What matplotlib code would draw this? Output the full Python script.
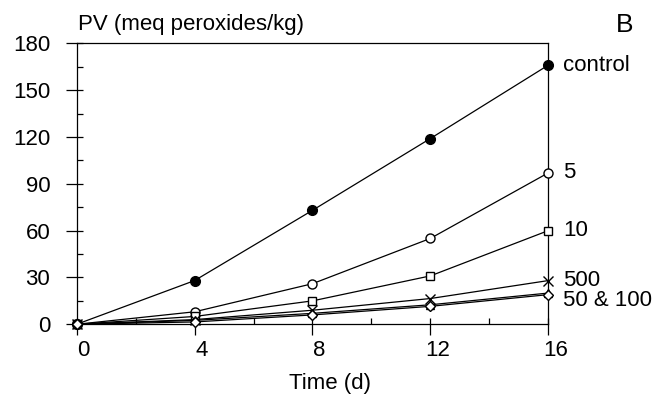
import matplotlib
matplotlib.use("Agg")
import matplotlib.pyplot as plt
import matplotlib.transforms as mtransforms
from matplotlib.ticker import MultipleLocator

plt.rcParams['font.family'] = ['Liberation Sans', 'DejaVu Sans']

# sampling days
days = [0, 4, 8, 12, 16]

# peroxide values per treatment
control = [0, 28, 73, 119, 166]
conc_5 = [0, 8, 26, 55, 97]
conc_10 = [0, 5, 15, 31, 60]
conc_500 = [0, 3, 9, 16.5, 28]
conc_50 = [0, 1.5, 6, 11.5, 19]
conc_100 = [0, 2.5, 7, 12.5, 20]

# labels on the right and where they sit
end_labels = ["control", "5", "10", "500", "50 & 100"]
end_label_y = [166, 97, 60, 28, 15]

FS = 16

fig = plt.figure(figsize=(6.56, 3.96), dpi=100)
ax = fig.add_axes([0.1169, 0.1811, 0.7189, 0.7096])

series = [
    (control, dict(marker='o', mfc='black', ms=7)),
    (conc_5, dict(marker='o', mfc='white', ms=6.5)),
    (conc_10, dict(marker='s', mfc='white', ms=6)),
    (conc_500, dict(marker='x', ms=6.5, mew=1.0)),
    (conc_100, dict(marker='^', mfc='white', ms=6)),
    (conc_50, dict(marker='D', mfc='white', ms=5.5)),
]
for values, style in series:
    ax.plot(days, values, color='black', lw=0.9, mec='black', clip_on=False,
            zorder=3, **style)

ax.set_xlim(0, 16)
ax.set_ylim(0, 180)
ax.xaxis.set_major_locator(MultipleLocator(4))
ax.xaxis.set_minor_locator(MultipleLocator(2))
ax.yaxis.set_major_locator(MultipleLocator(30))
ax.yaxis.set_minor_locator(MultipleLocator(15))
ax.xaxis.remove_overlapping_locs = False
ax.yaxis.remove_overlapping_locs = False

ax.tick_params(which='major', direction='out', length=8, width=0.9,
               labelsize=FS, colors='black')
ax.tick_params(axis='y', which='major', pad=11)
ax.tick_params(axis='x', which='major', pad=3)
ax.tick_params(which='minor', direction='in', length=4, width=0.9)
for sp in ax.spines.values():
    sp.set_linewidth(0.9)

# x tick labels sit a little right of their ticks in the original
offset = mtransforms.ScaledTranslation(7 / 100, 0, fig.dpi_scale_trans)
for lbl in ax.get_xticklabels():
    lbl.set_transform(lbl.get_transform() + offset)

for text, yv in zip(end_labels, end_label_y):
    ax.text(16.5, yv, text, fontsize=FS, ha='left', va='center',
            clip_on=False)

fig.text(78 / 656, 1 - 30 / 396, "PV (meq peroxides/kg)", fontsize=FS,
         ha='left', va='baseline')
fig.text(625 / 656, 1 - 25 / 396, "B", fontsize=19, ha='center', va='center')
fig.text(330 / 656, 1 - 383 / 396, "Time (d)", fontsize=FS,
         ha='center', va='center')

fig.savefig("out.png", dpi=100)
